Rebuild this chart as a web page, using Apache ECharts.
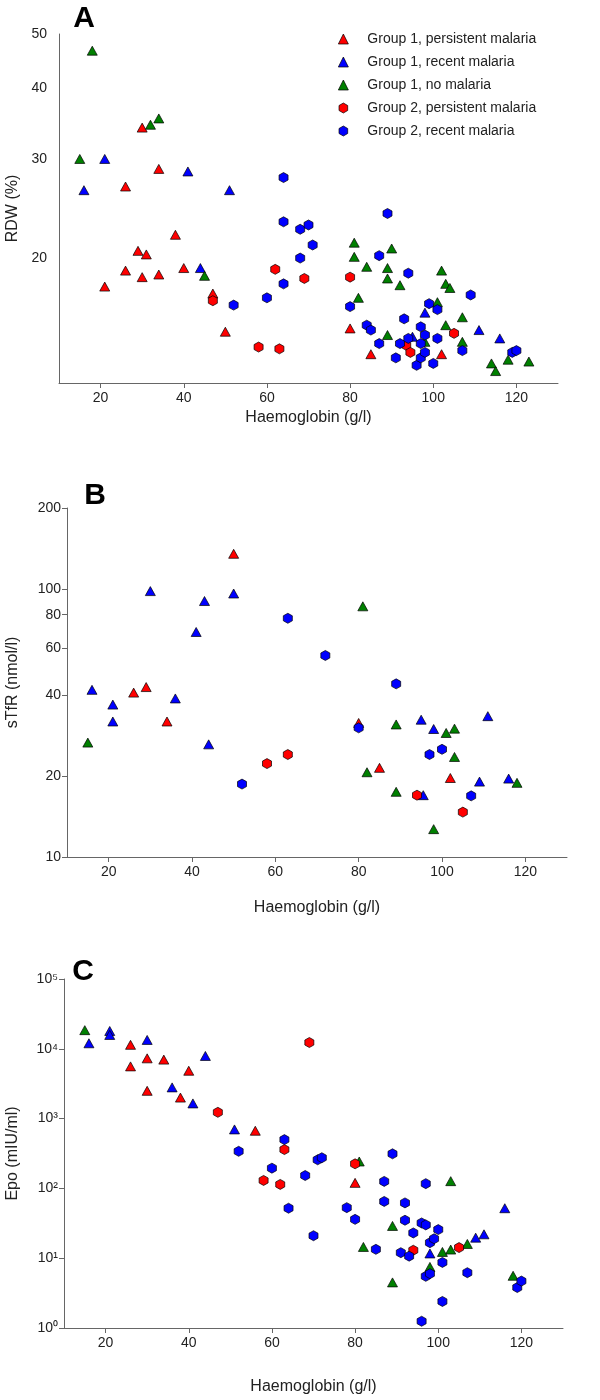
<!DOCTYPE html>
<html><head><meta charset="utf-8">
<script src="https://cdn.jsdelivr.net/npm/echarts@6/dist/echarts.min.js"></script>
<style>html,body{margin:0;padding:0;background:#fff}#c{width:600px;height:1400px}</style>
</head><body><div id="c"></div>
<script>
// ---------- names / ticks ----------
const seriesNames = ['Group 1, persistent malaria','Group 1, recent malaria','Group 1, no malaria','Group 2, persistent malaria','Group 2, recent malaria'];
const xTicks = [20,40,60,80,100,120];
const yTicksA = [20,30,40,50];
const yTicksB = [10,20,40,60,80,100,200];
const yTicksC = [1,10,100,1000,10000,100000];

// ---------- Panel A: RDW (%) vs Haemoglobin ----------
const A_g1Persistent = [[21,17.8],[26,26.8],[26,19.0],[29,20.6],[30,34.1],[30,18.5],[31,20.3],[34,28.8],[34,18.7],[38,22.0],[40,19.2],[47,17.3],[50,14.8],[80,15.0],[85,13.5],[102,13.5]];
const A_g1Recent = [[16,26.4],[21,30.0],[41,28.5],[44,19.2],[51,26.4],[95,14.5],[98,16.0],[111,14.9],[116,14.4]];
const A_g1None = [[15,30.0],[18,46.7],[32,34.5],[34,35.4],[45,18.6],[81,21.3],[81,20.1],[82,17.0],[84,19.3],[89,19.2],[89,18.4],[89,14.6],[90,20.8],[92,17.9],[98,14.2],[101,16.7],[102,19.0],[103,18.0],[103,15.2],[104,17.7],[107,15.7],[107,14.2],[114,13.0],[115,12.6],[118,13.2],[123,13.1]];
const A_g2Persistent = [[47,16.8],[58,13.9],[62,19.1],[63,13.8],[69,18.4],[80,18.5],[93.5,14.0],[94.5,13.6],[105,14.7]];
const A_g2Recent = [[52,16.5],[60,17.0],[64,18.0],[64,23.2],[64,27.8],[68,22.5],[68,20.0],[70,22.9],[71,21.1],[80,16.4],[84,15.2],[85,14.9],[87,20.2],[87,14.1],[89,24.0],[91,13.3],[92,14.1],[93,15.6],[94,18.8],[94,14.4],[96,12.9],[97,15.1],[97,14.1],[97,13.3],[98,14.6],[98,13.6],[99,16.6],[100,13.0],[101,16.2],[101,14.4],[107,13.7],[109,17.2],[119,13.6],[120,13.7]];

// ---------- Panel B: sTfR (nmol/l) ----------
const B_g1Persistent = [[26,41],[29,43],[34,32],[50,135],[80,31.6],[85,21.5],[102,19.7]];
const B_g1Recent = [[16,42],[21,37],[21,32],[30,98],[36,39],[41,69],[43,90],[44,26.3],[50,96],[95,32.5],[95.5,17],[98,30],[109,19.1],[111,33.5],[116,19.6]];
const B_g1None = [[15,26.7],[81,86],[82,20.7],[89,31.2],[89,17.5],[98,12.7],[101,29],[103,30.1],[103,23.6],[118,18.9]];
const B_g2Persistent = [[58,22.3],[63,24.1],[94,17],[105,14.7]];
const B_g2Recent = [[52,18.7],[63,77.6],[72,56.4],[80,30.3],[89,44.2],[97,24.1],[100,25.2],[107,16.9]];

// ---------- Panel C: Epo (mIU/ml) ----------
const C_g1Persistent = [[26,11400],[26,5600],[30,7300],[30,2500],[34,7000],[38,2000],[40,4850],[56,670],[80,120]];
const C_g1Recent = [[16,12000],[21,18000],[21,15800],[30,13400],[36,2800],[41,1650],[44,7900],[51,700],[98,11.7],[109,19.7],[111,22],[116,52]];
const C_g1None = [[15,18500],[81,243],[82,14.5],[89,29],[89,4.5],[98,7.5],[101,12.3],[103,13.3],[103,127],[107,16],[118,5.6]];
const C_g2Persistent = [[47,1230],[58,130],[62,114],[63,360],[69,12300],[80,225],[94,13],[105,14.2]];
const C_g2Recent = [[52,340],[60,195],[63,500],[64,52],[68,153],[70,21],[71,257],[72,275],[78,53],[80,36],[85,13.4],[87,126],[87,65],[89,313],[91,12],[92,62],[92,35],[93,10.7],[94,23],[96,32],[96,1.25],[97,117],[97,30],[97,5.5],[98,16.7],[98,6.0],[99,19],[100,25.7],[101,8.7],[101,2.4],[107,6.2],[119,3.8],[120,4.7]];

// ---------- styling ----------
const FONT = 'Liberation Sans, Arial, Helvetica, sans-serif';
const colors = ['#ff0000','#0000ff','#008000','#ff0000','#0000ff'];
const HEX = 'path://M0,-10 L8.66,-5 L8.66,5 L0,10 L-8.66,5 L-8.66,-5 Z';
const symbols = ['triangle','triangle','triangle',HEX,HEX];
const sizes = [[10,9],[10,9],[10,9],[9,10],[9,10]];
const AXIS_COLOR = '#666';
const SUP = {'0':'⁰','1':'¹','2':'²','3':'³','4':'⁴','5':'⁵'};

const panels = [
  {data:[A_g1Persistent,A_g1Recent,A_g1None,A_g2Persistent,A_g2Recent], yTicks:yTicksA, min:12, max:50, yName:'RDW (%)',
   grid:{left:59, top:34, width:499, height:349}, yGap:38, xGap:27, yTick:false},
  {data:[B_g1Persistent,B_g1Recent,B_g1None,B_g2Persistent,B_g2Recent], yTicks:yTicksB, min:10, max:200, yName:'sTfR (nmol/l)',
   grid:{left:67, top:508, width:500, height:349}, yGap:46, xGap:43, yTick:true},
  {data:[C_g1Persistent,C_g1Recent,C_g1None,C_g2Persistent,C_g2Recent], yTicks:yTicksC, min:1, max:100000, yName:'Epo (mIU/ml)',
   grid:{left:64, top:979, width:499, height:349}, yGap:43, xGap:51, yTick:true, sup:true}
];

const grid = [], xAxis = [], yAxis = [], series = [];
panels.forEach((p, i) => {
  grid.push(Object.assign({outerBoundsMode:'none', containLabel:false}, p.grid));
  xAxis.push({
    type:'value', gridIndex:i, min:10, max:130,
    name:'Haemoglobin (g/l)', nameLocation:'middle', nameGap:p.xGap,
    nameTextStyle:{fontFamily:FONT, fontSize:16, color:'#222'},
    axisLine:{show:true, lineStyle:{color:AXIS_COLOR, width:1}},
    axisTick:{show:true, length:5, lineStyle:{color:AXIS_COLOR}, customValues:xTicks},
    axisLabel:{fontFamily:FONT, fontSize:14, color:'#222', margin:8, customValues:xTicks},
    splitLine:{show:false}
  });
  yAxis.push({
    type:'log', logBase:10, gridIndex:i, min:p.min, max:p.max,
    name:p.yName, nameLocation:'middle', nameGap:p.yGap, nameRotate:90,
    nameTextStyle:{fontFamily:FONT, fontSize:16, color:'#222'},
    axisLine:{show:true, lineStyle:{color:AXIS_COLOR, width:1}},
    axisTick:{show:p.yTick, length:5, lineStyle:{color:AXIS_COLOR}, customValues:p.yTicks},
    axisLabel:{fontFamily:FONT, fontSize:14, color:'#222', margin:p.yTick?6:12, customValues:p.yTicks,
      formatter: p.sup ? (v => '10' + SUP[String(Math.round(Math.log10(v)))]) : (v => String(Math.round(v)))},
    splitLine:{show:false}, minorTick:{show:false}
  });
  p.data.forEach((d, k) => {
    series.push({
      type:'scatter', name:seriesNames[k], xAxisIndex:i, yAxisIndex:i,
      data:d, symbol:symbols[k], symbolSize:sizes[k],
      itemStyle:{color:colors[k], borderColor:'#000', borderWidth:0.7, opacity:1},
      emphasis:{disabled:true}, z:2+k
    });
  });
});

const legendData = seriesNames.map((n, k) => ({
  name:n, icon:symbols[k],
  itemStyle:{color:colors[k], borderColor:'#000', borderWidth:0.7}
}));

const chart = echarts.init(document.getElementById('c'), null, {renderer:'canvas'});
chart.setOption({
  animation:false,
  backgroundColor:'#fff',
  grid, xAxis, yAxis, series,
  legend:{
    orient:'vertical', left:333, top:27, itemWidth:10, itemHeight:10, itemGap:9,
    data:legendData, selectedMode:false,
    itemStyle:{borderColor:'#000', borderWidth:0.7},
    textStyle:{fontFamily:FONT, fontSize:14, color:'#222', padding:[0,0,0,14]}
  },
  graphic:[
    {type:'text', x:84, y:18.5, style:{text:'A', font:'bold 30px ' + FONT, fill:'#000', align:'center', verticalAlign:'middle'}},
    {type:'text', x:95, y:496, style:{text:'B', font:'bold 30px ' + FONT, fill:'#000', align:'center', verticalAlign:'middle'}},
    {type:'text', x:83, y:972, style:{text:'C', font:'bold 30px ' + FONT, fill:'#000', align:'center', verticalAlign:'middle'}}
  ]
});
</script>
</body></html>
